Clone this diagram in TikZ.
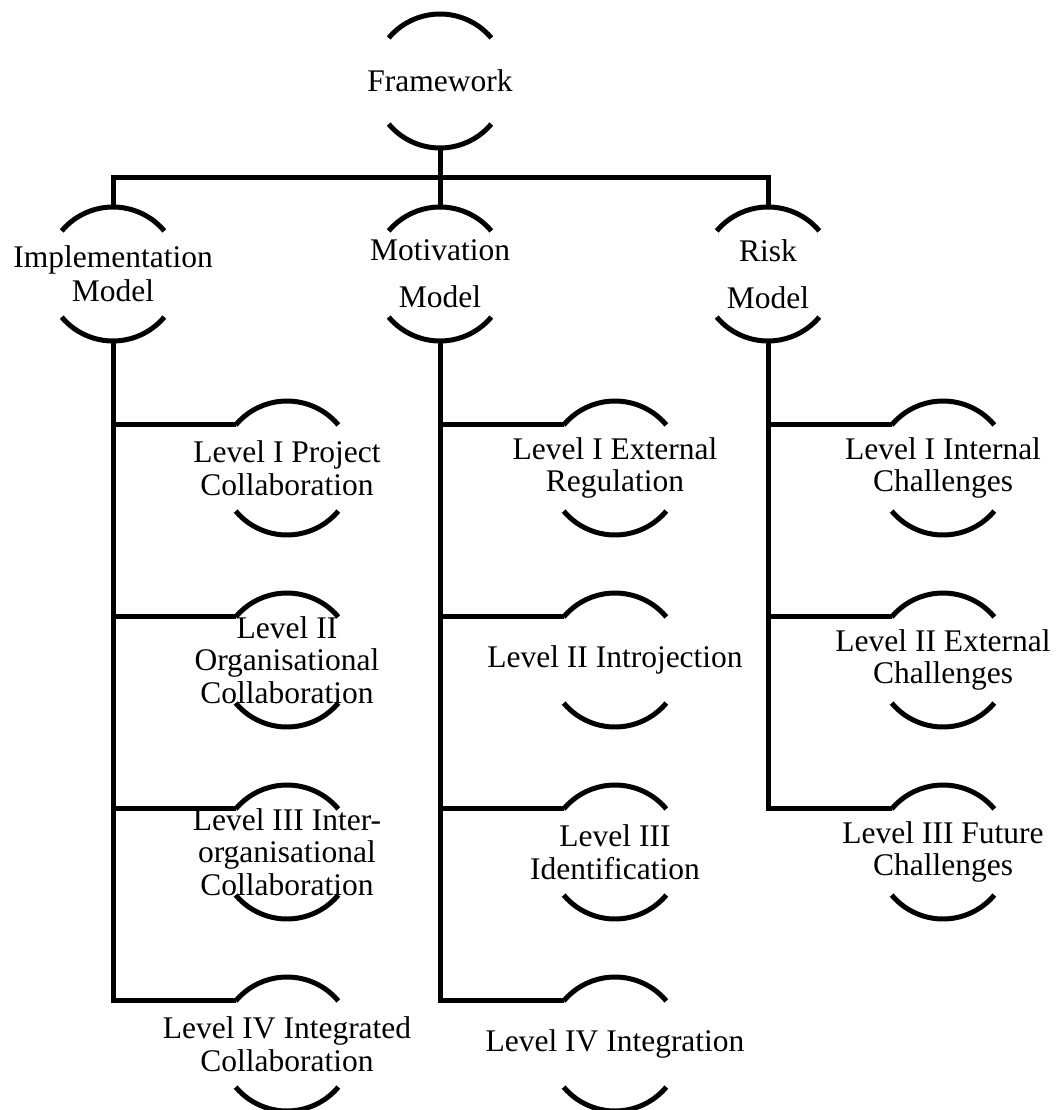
\documentclass[tikz,border=0pt]{standalone}
\usepackage{fontspec}
\setmainfont{Liberation Serif}
\begin{document}
\begin{tikzpicture}[x=1pt,y=-1pt,
  hub/.style={circle, minimum size=134pt, inner sep=0pt, outer sep=0pt, draw=none},
  txt/.style={font=\fontsize{31.5}{32.5}\selectfont, align=center, inner sep=0pt},
  wire/.style={line width=5pt, line join=miter}
]
\useasboundingbox (0,0) rectangle (1059,1110);

% root
\node[hub, label={[txt]center:Framework}] (fw) at (440,81) {};

% models
\node[hub, label={[txt]center:{Implementation\\[1.5pt]Model}}] (impl) at (113,274) {};
\node[hub, label={[txt]center:{Motivation\\[14.5pt]Model}}] (mot) at (440,274) {};
\node[hub, label={[txt]center:{Risk\\[14.5pt]Model}}] (risk) at (768,274) {};

% implementation levels
\node[hub, label={[txt]center:{Level I Project\\Collaboration}}] (i1) at (287,468) {};
\node[hub, label={[txt]center:{Level II\\Organisational\\Collaboration}}] (i2) at (287,660) {};
\node[hub, label={[txt]center:{Level III Inter-\\organisational\\Collaboration}}] (i3) at (287,852) {};
\node[hub, label={[txt]center:{Level IV Integrated\\Collaboration}}] (i4) at (287,1044) {};

% motivation levels
\node[hub, label={[txt]center:{Level I External\\Regulation}}] (m1) at (615,468) {};
\node[hub, label={[txt]center:{Level II Introjection}}] (m2) at (615,660) {};
\node[hub, label={[txt]center:{Level III\\Identification}}] (m3) at (615,852) {};
\node[hub, label={[txt]center:{Level IV Integration}}] (m4) at (615,1044) {};

% risk levels
\node[hub, label={[txt]center:{Level I Internal\\Challenges}}] (r1) at (943,468) {};
\node[hub, label={[txt]center:{Level II External\\Challenges}}] (r2) at (943,660) {};
\node[hub, label={[txt]center:{Level III Future\\Challenges}}] (r3) at (943,852) {};

% upper and lower arcs of every hub
\foreach \n in {fw,impl,mot,risk,i1,i2,i3,i4,m1,m2,m3,m4,r1,r2,r3} {
  \draw[wire] (\n.40) arc[start angle=40, end angle=140, radius=67pt];
  \draw[wire] (\n.220) arc[start angle=220, end angle=320, radius=67pt];
}

% root to models
\coordinate (bar) at (440,178);
\draw[wire] (impl.north) |- (bar) -| (risk.north);
\draw[wire] (fw.south) -- (mot.north);

% trunks and branches
\draw[wire] (impl.south) |- (i4.140);
\foreach \k in {i1,i2,i3} \draw[wire] (impl.south |- \k.140) -- (\k.140);
\draw[wire] (mot.south) |- (m4.140);
\foreach \k in {m1,m2,m3} \draw[wire] (mot.south |- \k.140) -- (\k.140);
\draw[wire] (risk.south) |- (r3.140);
\foreach \k in {r1,r2} \draw[wire] (risk.south |- \k.140) -- (\k.140);
\end{tikzpicture}
\end{document}
